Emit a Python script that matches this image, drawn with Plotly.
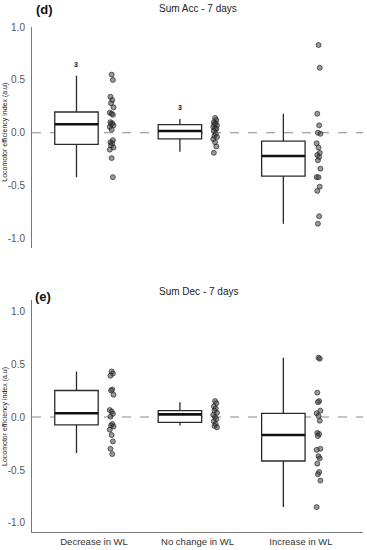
import plotly.graph_objects as go

categories = ["Decrease in WL", "No change in WL", "Increase in WL"]

# Panel (d) Sum Acc - 7 days : box stats [lower, q1, median, q3, upper]
acc_lower = [-0.42, -0.18, -0.86]
acc_q1 = [-0.11, -0.058, -0.41]
acc_median = [0.08, 0.017, -0.22]
acc_q3 = [0.196, 0.077, -0.08]
acc_upper = [0.54, 0.13, 0.18]
acc_points = [
    [0.55, 0.50, 0.34, 0.31, 0.28, 0.24, 0.19, 0.18, 0.17, 0.10, 0.09, 0.08, 0.07,
     0.055, 0.03, -0.07, -0.09, -0.10, -0.12, -0.14, -0.16, -0.24, -0.42],
    [0.14, 0.12, 0.10, 0.09, 0.08, 0.07, 0.055, 0.04, 0.036, 0.017, -0.008, -0.03,
     -0.04, -0.06, -0.09, -0.13, -0.19],
    [0.83, 0.615, 0.18, 0.07, 0.0, -0.01, -0.10, -0.14, -0.19, -0.21, -0.23, -0.26,
     -0.34, -0.42, -0.42, -0.51, -0.55, -0.79, -0.86],
]
acc_counts = ["3", "3", ""]
acc_count_y = [0.645, 0.24, None]

# Panel (e) Sum Dec - 7 days
dec_lower = [-0.34, -0.08, -0.85]
dec_q1 = [-0.075, -0.05, -0.415]
dec_median = [0.035, 0.025, -0.17]
dec_q3 = [0.25, 0.06, 0.035]
dec_upper = [0.43, 0.14, 0.56]
dec_points = [
    [0.43, 0.41, 0.39, 0.26, 0.25, 0.21, 0.066, 0.05, 0.03, 0.003, -0.066, -0.08,
     -0.09, -0.12, -0.17, -0.23, -0.30, -0.35],
    [0.15, 0.13, 0.10, 0.08, 0.06, 0.04, 0.02, 0.0, -0.02, -0.04, -0.066, -0.085, -0.097],
    [0.56, 0.55, 0.23, 0.15, 0.14, 0.06, 0.035, 0.01, -0.035, -0.15, -0.16, -0.18,
     -0.30, -0.31, -0.37, -0.39, -0.44, -0.52, -0.54, -0.60, -0.85],
]

panels = [
    dict(lower=acc_lower, q1=acc_q1, med=acc_median, q3=acc_q3, upper=acc_upper,
         pts=acc_points, xa="x", ya="y"),
    dict(lower=dec_lower, q1=dec_q1, med=dec_median, q3=dec_q3, upper=dec_upper,
         pts=dec_points, xa="x2", ya="y2"),
]

BOX_OFF = -0.17
PT_OFF = 0.17
BOX_W = 0.42
jitter = [0.0, 0.012, -0.012, 0.006, -0.006, 0.018, -0.018]

fig = go.Figure()
for p in panels:
    for i in range(3):
        fig.add_trace(go.Box(
            x=[i + BOX_OFF], q1=[p["q1"][i]], median=[p["med"][i]], q3=[p["q3"][i]],
            lowerfence=[p["lower"][i]], upperfence=[p["upper"][i]],
            width=BOX_W, whiskerwidth=0, boxpoints=False,
            fillcolor="white", line=dict(color="#2a2a2a", width=1.3),
            xaxis=p["xa"], yaxis=p["ya"], showlegend=False, hoverinfo="skip"))
        fig.add_trace(go.Scatter(
            x=[i + BOX_OFF - BOX_W / 2, i + BOX_OFF + BOX_W / 2],
            y=[p["med"][i], p["med"][i]], mode="lines",
            line=dict(color="#111", width=2.6),
            xaxis=p["xa"], yaxis=p["ya"], showlegend=False, hoverinfo="skip"))
        vals = p["pts"][i]
        fig.add_trace(go.Scatter(
            x=[i + PT_OFF + jitter[k % len(jitter)] for k in range(len(vals))],
            y=vals, mode="markers",
            marker=dict(size=5, color="rgba(70,70,70,0.55)",
                        line=dict(color="rgba(30,30,30,0.8)", width=0.8)),
            xaxis=p["xa"], yaxis=p["ya"], showlegend=False, hoverinfo="skip"))

for i in range(3):
    if acc_counts[i]:
        fig.add_annotation(x=i + BOX_OFF, y=acc_count_y[i], xref="x", yref="y",
                           text="<b>" + acc_counts[i] + "</b>", showarrow=False,
                           font=dict(size=7, color="#111"))

font = "Liberation Sans, Arial, sans-serif"
yax = dict(tickvals=[-1.0, -0.5, 0.0, 0.5, 1.0], ticktext=["-1.0", "-0.5", "0.0", "0.5", "1.0"],
           showline=True, linecolor="#777", linewidth=1, ticks="", showgrid=False,
           zeroline=False, automargin=False,
           tickfont=dict(size=10, color="#555", family=font), ticklabelstandoff=4)
xax = dict(range=[-0.6, 2.6], showgrid=False, zeroline=False, ticks="", automargin=False)

fig.update_layout(
    width=367, height=550,
    margin=dict(l=32, r=4, t=20, b=18),
    plot_bgcolor="white", paper_bgcolor="white",
    font=dict(family=font),
    xaxis=dict(**xax, domain=[0, 1], anchor="y", showticklabels=False, showline=False),
    yaxis=dict(**yax, domain=[0.5547, 0.9863], range=[-1.09, 1.0], anchor="x"),
    xaxis2=dict(**xax, domain=[0, 1], anchor="y2", tickvals=[0, 1, 2], ticktext=categories,
                showline=True, linecolor="#777", linewidth=1, ticklabelstandoff=1,
                tickfont=dict(size=9.5, color="#333", family=font)),
    yaxis2=dict(**yax, domain=[0, 0.4531], range=[-1.085, 1.104], anchor="x2"),
)

# dashed zero reference lines
for xr, yr in [("x", "y"), ("x2", "y2")]:
    fig.add_shape(type="line", xref=xr + " domain", yref=yr, x0=0, x1=1, y0=0, y1=0,
                  line=dict(color="#888", width=1.1, dash="dash"), layer="below")

# panel labels and titles
fig.add_annotation(xref="paper", yref="paper", x=(44 - 32) / 331, y=(532 - 9) / 512,
                   text="<b>(d)</b>", showarrow=False, font=dict(size=13, color="#111"),
                   xanchor="center", yanchor="middle")
fig.add_annotation(xref="paper", yref="paper", x=(198 - 32) / 331, y=(532 - 8) / 512,
                   text="Sum Acc - 7 days", showarrow=False, font=dict(size=10, color="#222"),
                   xanchor="center", yanchor="middle")
fig.add_annotation(xref="paper", yref="paper", x=(43 - 32) / 331, y=(532 - 296) / 512,
                   text="<b>(e)</b>", showarrow=False, font=dict(size=13, color="#111"),
                   xanchor="center", yanchor="middle")
fig.add_annotation(xref="paper", yref="paper", x=(198 - 32) / 331, y=(532 - 291) / 512,
                   text="Sum Dec - 7 days", showarrow=False, font=dict(size=10, color="#222"),
                   xanchor="center", yanchor="middle")
# y axis titles
for yr, yv in [("y", 0.0), ("y2", 0.0)]:
    fig.add_annotation(xref="paper", yref=yr, x=(5 - 32) / 331, y=yv,
                       text="Locomotor efficiency index (a.u)", textangle=-90,
                       showarrow=False, font=dict(size=7, color="#222"),
                       xanchor="center", yanchor="middle")

fig.write_html("out.html", config={"displayModeBar": False},
               post_script="document.body.style.margin='0px';")
